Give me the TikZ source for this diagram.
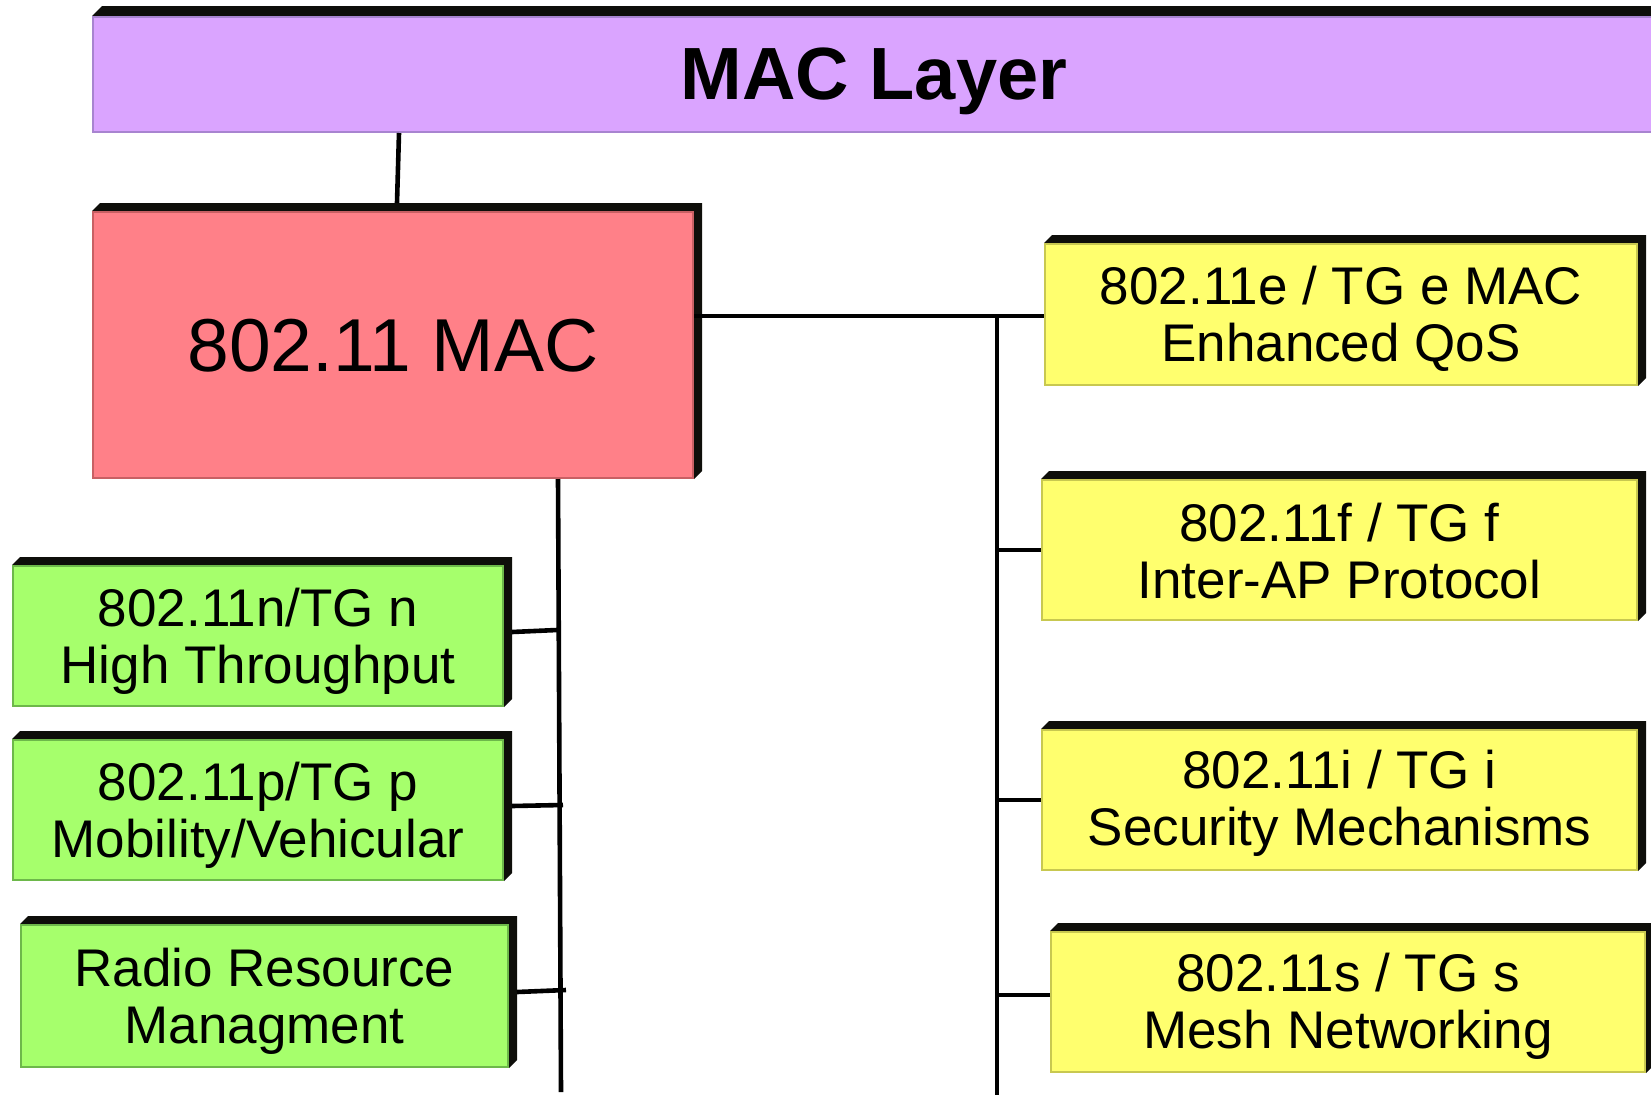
\documentclass[tikz,border=0pt]{standalone}
\usepackage{fontspec}
\setmainfont{Liberation Sans}
\usetikzlibrary{calc,backgrounds}
\definecolor{purplefill}{HTML}{DAA4FF}
\definecolor{purpleline}{HTML}{A884D0}
\definecolor{redfill}{HTML}{FF8088}
\definecolor{redline}{HTML}{C86064}
\definecolor{greenfill}{HTML}{A6FF6C}
\definecolor{greenline}{HTML}{6DB84A}
\definecolor{yellowfill}{HTML}{FFFF6E}
\definecolor{yellowline}{HTML}{C8C850}
\definecolor{shadecol}{HTML}{0E0E0A}
\newcommand\boxshade[2]{%
  \begin{scope}[on background layer]
    \fill[shadecol] (#1.north west) -- ++(#2,-#2) -- ($(#1.north east)+(#2,-#2)$)
      -- ($(#1.south east)+(#2,-#2)$) -- (#1.south east) -- (#1.north east) -- cycle;
  \end{scope}}
\begin{document}
\begin{tikzpicture}[x=1pt,y=-1pt,
  basebox/.style={draw, line width=2pt, inner sep=0pt},
  greenbox/.style={basebox, fill=greenfill, draw=greenline, minimum height=140pt},
  yellowbox/.style={basebox, fill=yellowfill, draw=yellowline, minimum height=140pt},
  boxtext/.style={inner sep=0pt, align=center, text=black, font=\fontsize{53}{57}\selectfont},
  link/.style={line width=4.6pt, black}]
\useasboundingbox (0,0) rectangle (1651,1095);
\clip (0,0) rectangle (1651,1095);

\node[basebox, fill=purplefill, draw=purpleline, minimum width=1562pt, minimum height=115pt] (mac) at (874,74.5) {};
\boxshade{mac}{10}
\node[boxtext, font=\fontsize{74}{80}\selectfont\bfseries] (mact) at ($(mac)+(0,7)$) {MAC Layer};

\node[basebox, fill=redfill, draw=redline, minimum width=600pt, minimum height=266pt] (red) at (393,345) {};
\boxshade{red}{8}
\node[boxtext, font=\fontsize{75}{80}\selectfont] (redt) at ($(red)+(0,1)$) {802.11 MAC};

\node[yellowbox, minimum width=592pt, minimum height=141pt] (e) at (1341,314.5) {};
\boxshade{e}{8}
\node[boxtext] (et) at ($(e)+(0,4)$) {802.11e / TG e MAC\\Enhanced QoS};
\node[yellowbox, minimum width=595pt] (f) at (1339.5,550) {};
\boxshade{f}{8}
\node[boxtext] (ft) at ($(f)+(0,1)$) {802.11f / TG f\\Inter-AP Protocol};
\node[yellowbox, minimum width=595pt] (i) at (1339.5,800) {};
\boxshade{i}{8}
\node[boxtext] (it) at ($(i)+(0,3)$) {802.11i / TG i\\Security Mechanisms};
\node[yellowbox, minimum width=594pt] (s) at (1348,1002) {};
\boxshade{s}{8}
\node[boxtext] (st) at ($(s)+(0,4)$) {802.11s / TG s\\Mesh Networking};

\node[greenbox, minimum width=490pt] (n) at (258,636) {};
\boxshade{n}{8}
\node[boxtext] (nt) at ($(n)+(0,5)$) {802.11n/TG n\\High Throughput};
\node[greenbox, minimum width=490pt] (p) at (258,810) {};
\boxshade{p}{8}
\node[boxtext] (pt) at ($(p)+(0,5)$) {802.11p/TG p\\Mobility/Vehicular};
\node[greenbox, minimum width=487pt, minimum height=142pt] (rrm) at (264.5,996) {};
\boxshade{rrm}{8}
\node[boxtext] (rrmt) at ($(rrm)+(0,5)$) {Radio Resource\\Managment};

% connectors
\coordinate (rtop) at (997,316);
\coordinate (rbot) at (997,1095);
\coordinate (ltop) at (558,479);
\coordinate (lbot) at (561,1092);

\draw[link] ($(mac.south west)+(307,0)$) -- ($(red.north west)+(305,-8)$);
\draw[link] ($(red.east)+(0,-29)$) -- ($(e.west)+(0,1.5)$);
\draw[link] (rtop) -- (rbot);
\draw[link] (f.west) -- (f.west -| rtop);
\draw[link] (i.west) -- (i.west -| rtop);
\draw[link] ($(s.west)+(0,-7)$) -- ($(s.west -| rtop)+(0,-7)$);
\draw[link] (ltop) -- (lbot);
\draw[link] ($(n.east)+(8,-4)$) -- ($(ltop)+(-1,151)$);
\draw[link] ($(p.east)+(8,-4)$) -- ($(ltop)+(5,326)$);
\draw[link] ($(rrm.east)+(8,-4)$) -- ($(ltop)+(8,511)$);
\end{tikzpicture}
\end{document}
